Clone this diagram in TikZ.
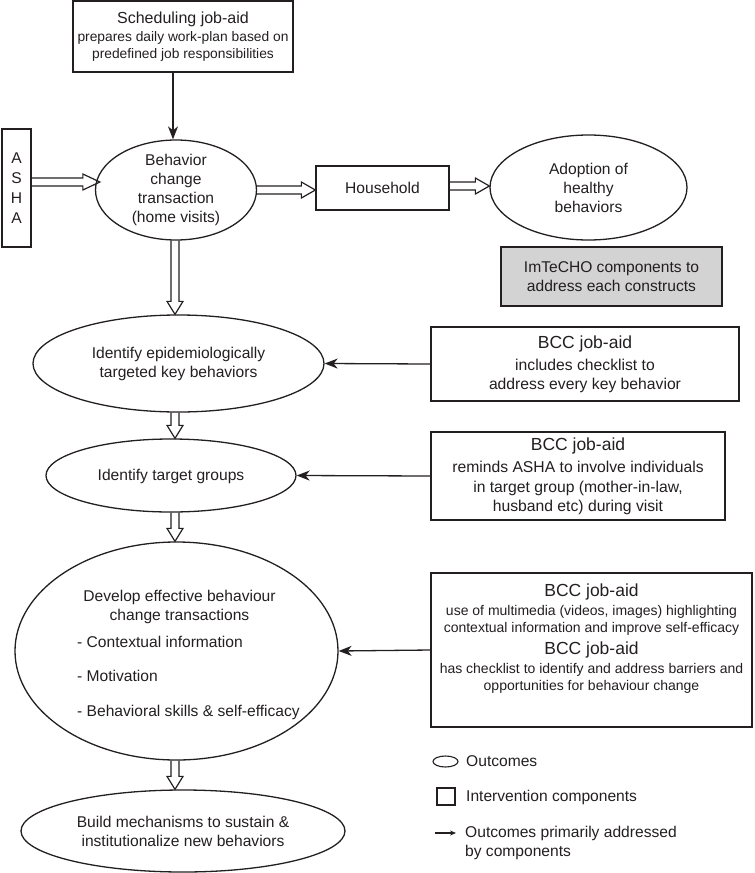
\documentclass[tikz,border=0pt]{standalone}
\usepackage{fontspec}
\setmainfont{Liberation Sans}
\usetikzlibrary{shapes.geometric,arrows.meta,calc}
\definecolor{ink}{RGB}{35,31,32}
\definecolor{shade}{RGB}{211,211,211}
\newcommand\bccHead{\fontsize{17.5}{19}\selectfont}
\newcommand\HArrow[3]{\draw[hol] let \p1=(#1), \p2=(#2) in
  (\x1,\y1+4pt) -- (\x2-#3,\y1+4pt) -- (\x2-#3,\y1+8pt) -- (\x2,\y1) --
  (\x2-#3,\y1-8pt) -- (\x2-#3,\y1-4pt) -- (\x1,\y1-4pt);}
\newcommand\VArrow[3]{\draw[hol] let \p1=(#1), \p2=(#2) in
  (\x1-4pt,\y1) -- (\x1-4pt,\y2+#3) -- (\x1-8pt,\y2+#3) -- (\x1,\y2) --
  (\x1+8pt,\y2+#3) -- (\x1+4pt,\y2+#3) -- (\x1+4pt,\y1);}
\begin{document}
\begin{tikzpicture}[x=1pt,y=-1pt,
  font=\fontsize{15.6}{19}\selectfont, text=ink,
  box/.style={draw=ink, line width=1.3pt, rectangle, inner sep=0pt, align=center},
  oval/.style={draw=ink, line width=1.3pt, ellipse, inner sep=0pt},
  txt/.style={align=center, inner sep=0pt},
  conn/.style={draw=ink, line width=1.3pt, -{Stealth[length=13pt,width=10pt,inset=4pt]}},
  connsmall/.style={draw=ink, line width=1.1pt, -{Stealth[length=6pt,width=5pt,inset=2pt]}},
  hol/.style={draw=ink, line width=1.2pt, line join=miter}]
\useasboundingbox (0,0) rectangle (755,873);

% top
\node[box, minimum width=220pt, minimum height=71pt, font=\fontsize{13.8}{17}\selectfont] (sched) at (183,36.5)
  {{\fontsize{16}{17}\selectfont Scheduling job-aid}\\[1pt]prepares daily work-plan based on\\predefined job responsibilities};
\node[box, minimum width=29pt, minimum height=118pt, font=\fontsize{15.6}{20}\selectfont] (asha) at (16.5,188) {A\\S\\H\\A};
\node[oval, minimum width=161pt, minimum height=100pt] (beh) at (176,190) {};
\node[txt] (behT) at (176,190) {Behavior\\change\\transaction\\(home visits)};
\node[box, minimum width=133pt, minimum height=44pt] (hh) at (382.5,188) {Household};
\node[oval, minimum width=197pt, minimum height=105pt] (adopt) at (588.5,187.5) {};
\node[txt] (adoptT) at (588.5,187.5) {Adoption of\\healthy\\behaviors};
\node[box, fill=shade, minimum width=221pt, minimum height=59pt] (imt) at (611.5,276.5)
  {ImTeCHO components to\\address each constructs};

% left column
\node[oval, minimum width=291pt, minimum height=97pt] (epi) at (178.5,363.5) {};
\node[txt] (epiT) at (178.5,364) {Identify epidemiologically\\targeted key behaviors};
\node[oval, minimum width=250pt, minimum height=73pt] (tg) at (171,475.5) {};
\node[txt] (tgT) at (171,476) {Identify target groups};
\node[oval, minimum width=323pt, minimum height=218pt] (dev) at (176.5,651) {};
\node[txt] (devT) at (179.5,606.5) {Develop effective behaviour\\change transactions};
\node[txt, align=left, anchor=west, font=\fontsize{15.6}{34.5}\selectfont] (devL) at (77,677.5)
  {- Contextual information\\- Motivation\\- Behavioral skills \& self-efficacy};
\node[oval, minimum width=324pt, minimum height=82pt] (build) at (183,831) {};
\node[txt] (buildT) at (183,831) {Build mechanisms to sustain \&\\institutionalize new behaviors};

% right column
\node[box, minimum width=308pt, minimum height=74pt, font=\fontsize{15.7}{19}\selectfont] (bcc1) at (585,364)
  {{\bccHead BCC job-aid}\\[3pt]includes checklist to\\address every key behavior};
\node[box, minimum width=294pt, minimum height=88pt, font=\fontsize{15.7}{19}\selectfont] (bcc2) at (578,476)
  {{\bccHead BCC job-aid}\\[3pt]reminds ASHA to involve individuals\\[1pt]in target group (mother-in-law,\\husband etc) during visit};
\node[box, minimum width=321pt, minimum height=154pt] (bcc3) at (591.5,650) {};
\node[txt, font=\fontsize{14}{17}\selectfont] (bcc3T) at (591.5,639)
  {{\bccHead BCC job-aid}\\[2pt]use of multimedia (videos, images) highlighting\\contextual information and improve self-efficacy\\[5pt]{\bccHead BCC job-aid}\\[2pt]has checklist to identify and address barriers and\\opportunities for behaviour change};

% legend
\node[oval, minimum width=25pt, minimum height=11pt, line width=1.1pt] (lgO) at (445.5,761.5) {};
\node[txt, anchor=west] (lgOT) at (466,761) {Outcomes};
\node[box, minimum width=18pt, minimum height=17pt, line width=1.1pt] (lgB) at (446,796.5) {};
\node[txt, anchor=west] (lgBT) at (466,797) {Intervention components};
\coordinate (lgA1) at (435,833);
\coordinate (lgA2) at (456,833);
\draw[connsmall] (lgA1) -- (lgA2);
\node[txt, anchor=west, align=left] (lgAT) at (465,843) {Outcomes primarily addressed\\by components};

% single arrows
\coordinate (schedOut) at ([xshift=-10pt]sched.south);
\draw[conn] (schedOut) -- (schedOut |- beh.north);
\draw[conn] (bcc1.west) -- (epi.east);
\draw[conn] (bcc2.west) -- (tg.east);
\draw[conn] (bcc3.west) -- (dev.east);

% hollow arrows
\coordinate (ashaOut) at ([yshift=6pt]asha.east);
\coordinate (behIn) at ([xshift=5pt]beh.west);
\HArrow{ashaOut}{behIn}{17pt}
\HArrow{beh.east}{hh.west}{14pt}
\coordinate (hhOut) at ([yshift=2pt]hh.east);
\HArrow{hhOut}{adopt.west}{14pt}
\coordinate (axis) at (175,0);
\VArrow{axis |- beh.south}{axis |- epi.north}{13pt}
\VArrow{axis |- epi.south}{axis |- tg.north}{13pt}
\VArrow{axis |- tg.south}{axis |- dev.north}{13pt}
\VArrow{axis |- dev.south}{axis |- build.north}{13pt}
\end{tikzpicture}
\end{document}
